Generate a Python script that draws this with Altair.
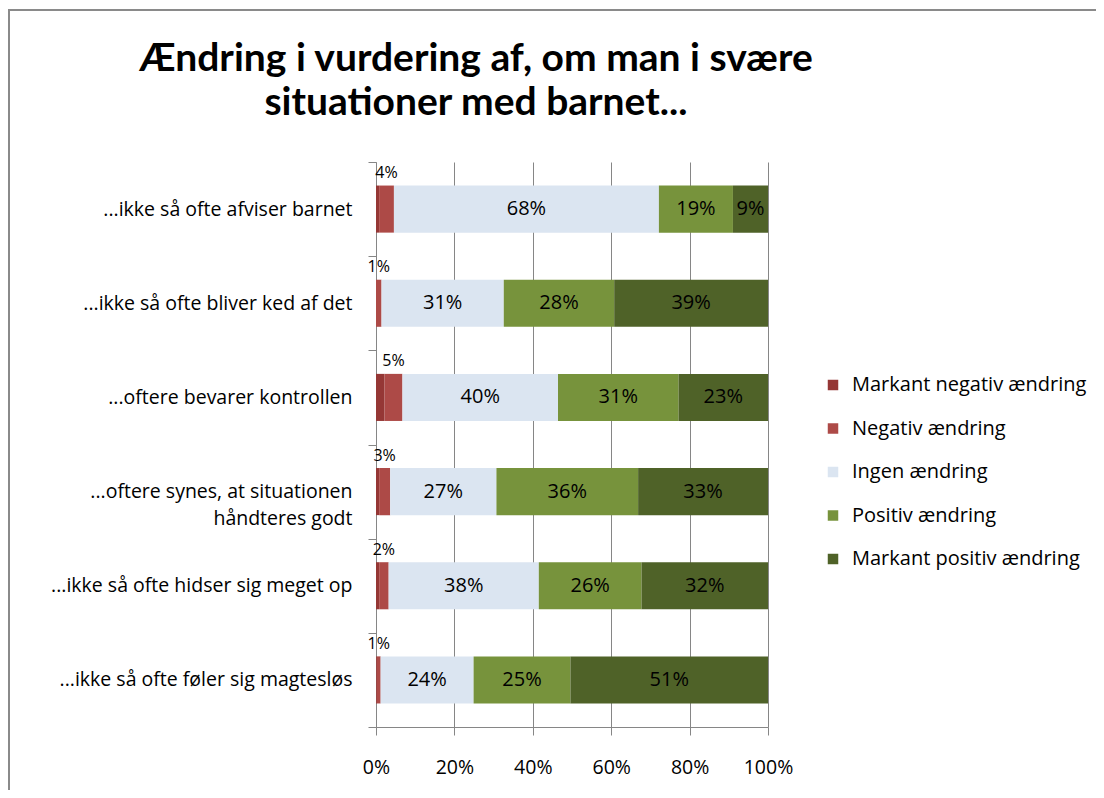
import altair as alt
import pandas as pd

categories = [
    "...ikke så ofte afviser barnet",
    "...ikke så ofte bliver ked af det",
    "...oftere bevarer kontrollen",
    "...oftere synes, at situationen\nhåndteres godt",
    "...ikke så ofte hidser sig meget op",
    "...ikke så ofte føler sig magtesløs",
]
series = [
    "Markant negativ ændring",
    "\u00a0Negativ ændring",
    "Ingen ændring",
    "Positiv ændring",
    "Markant positiv ændring",
]
colors = ["#953735", "#AD4A47", "#DBE5F1", "#77933C", "#4F6228"]

markant_negativ = [0.8, 0.0, 2.2, 0.8, 0.8, 0.2]
negativ = [3.8, 1.4, 4.6, 2.8, 2.4, 1.0]
ingen = [68, 31, 40, 27, 38, 24]
positiv = [19, 28, 31, 36, 26, 25]
markant_positiv = [9, 39, 23, 33, 32, 51]
x_ticks = [0, 0.2, 0.4, 0.6, 0.8, 1.0]

title_text = "Ændring i vurdering af, om man i svære\nsituationer med barnet..."

rows = []
for i, c in enumerate(categories):
    for j, vals in enumerate([markant_negativ, negativ, ingen, positiv, markant_positiv]):
        rows.append({"cat": c, "series": series[j], "order": j, "value": vals[i]})
df = pd.DataFrame(rows)

FONT = "Open Sans"
TITLE_FONT = "Lato"
GRID = "#868686"

base = alt.Chart(df).transform_stack(
    stack="value",
    groupby=["cat"],
    sort=[alt.SortField("order")],
    as_=["x0", "x1"],
    offset="normalize",
).transform_calculate(
    mid="(datum.x0 + datum.x1) / 2",
    label="format(datum.value, '.0f') + '%'",
)

y_enc = alt.Y(
    "cat:N",
    sort=categories,
    scale=alt.Scale(paddingInner=0, paddingOuter=0),
    axis=alt.Axis(
        title=None,
        tickBand="extent",
        tickSize=8,
        tickColor=GRID,
        domainColor=GRID,
        labelFontSize=19.5,
        labelColor="#000000",
        labelPadding=16,
        labelLimit=0,
        labelExpr="split(datum.label, '\\n')",
        labelLineHeight=27,
        grid=False,
    ),
)

bars = base.mark_bar(height=alt.RelativeBandSize(0.5)).encode(
    x=alt.X(
        "x0:Q",
        scale=alt.Scale(domain=[0, 1], nice=False),
        axis=alt.Axis(
            title=None,
            format="%",
            values=x_ticks,
            grid=True,
            gridColor=GRID,
            gridWidth=1,
            tickSize=8,
            tickColor=GRID,
            domainColor=GRID,
            labelFontSize=19.5,
            labelColor="#000000",
            labelPadding=23,
            labelFlush=False,
        ),
    ),
    x2="x1:Q",
    y=y_enc,
    color=alt.Color(
        "series:N",
        sort=series,
        scale=alt.Scale(domain=series, range=colors),
        legend=alt.Legend(
            title=None,
            orient="none",
            legendX=447,
            legendY=213,
            symbolType="square",
            symbolSize=110,
            symbolStrokeWidth=0,
            labelFontSize=20,
            labelColor="#000000",
            labelLimit=0,
            rowPadding=23.5,
            labelOffset=9,
            padding=0,
        ),
    ),
    order=alt.Order("order:Q"),
)

seg_labels = base.transform_filter("datum.order >= 2").mark_text(
    fontSize=20, color="#000000", baseline="middle", align="center"
).encode(
    x="mid:Q",
    y=alt.Y("cat:N", sort=categories),
    text="label:N",
)

neg_labels = base.transform_filter("datum.order == 1").mark_text(
    fontSize=16, color="#000000", baseline="middle", align="center", dy=-36
).encode(
    x="mid:Q",
    y=alt.Y("cat:N", sort=categories),
    text="label:N",
)

title = alt.Chart(pd.DataFrame({"t": [title_text]})).mark_text(
    font=TITLE_FONT,
    fontSize=39,
    fontWeight="bold",
    color="#000000",
    align="center",
    baseline="alphabetic",
    lineBreak="\n",
    lineHeight=44,
).encode(text="t:N", x=alt.value(100), y=alt.value(-91))

frame = alt.Chart(pd.DataFrame({"k": [0]}))
top_border = frame.mark_rule(color="#8a8a8a", strokeWidth=2).encode(
    x=alt.value(-368), x2=alt.value(720), y=alt.value(-152)
)
left_border = frame.mark_rule(color="#8a8a8a", strokeWidth=2).encode(
    x=alt.value(-367), y=alt.value(-153), y2=alt.value(628)
)

chart = alt.layer(bars, seg_labels, neg_labels, title, top_border, left_border).properties(
    width=392,
    height=565,
    padding={"left": 368, "top": 154, "right": 328, "bottom": 63},
    autosize=alt.AutoSizeParams(type="none"),
).configure(font=FONT).configure_view(strokeWidth=0)

chart.save("out.html", embed_options={"renderer": "svg", "actions": False})
